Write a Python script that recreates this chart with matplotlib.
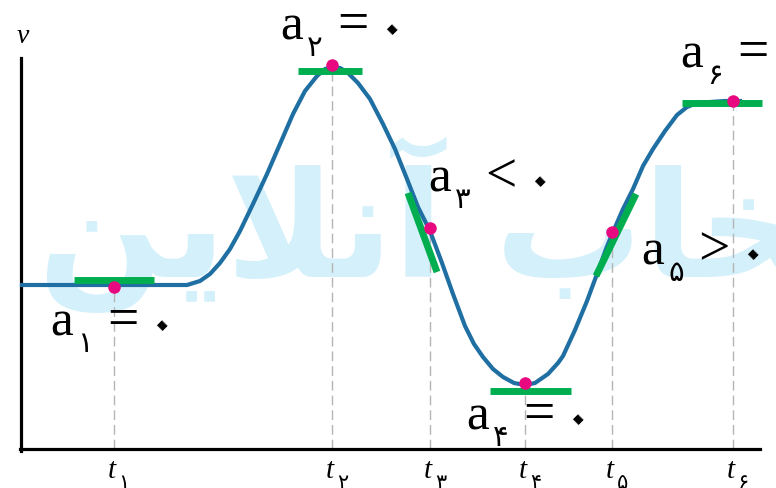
import matplotlib.pyplot as plt

config = {
    "font.family": ['Liberation Serif', 'DejaVu Sans'],
    "font.size": 14,
}
plt.rcParams.update(config)

# velocity trace v(t)
curve_t = [0.2, 4.0, 8.0, 12.0, 16.7, 18.0, 19.0, 20.0, 21.0, 22.0, 23.3, 24.7,
           26.0, 27.3, 28.5, 29.7, 30.5, 31.2, 32.0, 32.7, 33.8, 35.0, 36.3,
           37.5, 38.7, 39.8, 41.0, 42.2, 43.3, 44.5, 45.4, 46.3, 47.3, 48.3,
           49.4, 50.5, 51.5, 52.8, 53.8, 54.3, 55.5, 56.7, 57.7, 58.6, 59.3,
           60.3, 61.3, 62.3, 63.3, 64.5, 65.7, 66.7, 67.7, 69.0, 70.5, 72.0]
curve_v = [16.4, 16.4, 16.4, 16.4, 16.4, 16.8, 17.5, 18.6, 20.0, 21.8, 24.5, 27.5,
           30.5, 33.5, 35.8, 37.3, 38.0, 38.2, 38.1, 37.7, 36.6, 35.0, 32.5,
           30.0, 27.0, 24.2, 21.8, 18.6, 15.5, 12.3, 10.5, 9.2, 8.0, 7.2,
           6.6, 6.4, 6.6, 7.5, 8.6, 9.3, 11.9, 14.8, 17.5, 20.0, 21.7,
           24.0, 26.0, 28.3, 30.0, 31.8, 33.4, 34.2, 34.6, 34.7, 34.8, 34.8]

# marked instants t1..t6 and the velocity there
mark_t = [9.35, 31.2, 41.0, 50.5, 59.2, 71.3]
mark_v = [16.2, 38.4, 22.1, 6.6, 21.7, 34.8]
sub_digits = ['۱', '۲', '۳', '۴', '۵', '۶']

# tangent segments at each instant
tan_t0 = [5.4, 27.8, 38.8, 47.0, 57.6, 66.2]
tan_v0 = [16.95, 37.8, 25.6, 5.8, 17.3, 34.6]
tan_t1 = [13.4, 34.2, 41.7, 55.1, 61.6, 74.2]
tan_v1 = [16.95, 37.8, 17.7, 5.8, 25.5, 34.6]

# sign of the acceleration at each instant
acc_sign = ['=', '=', '<', '=', '>', '=']

# where each "a" label sits (left edge, baseline)
label_t = [3.0, 26.0, 40.8, 44.6, 62.1, 66.0]
label_v = [11.4, 41.0, 25.8, 2.0, 18.5, 38.2]

blue = '#1f6fa3'
green = '#00ae50'
pink = '#e8087f'
grey = '#b5b5b5'
faint = '#d4f0fb'

fig = plt.figure(figsize=(7.76, 4.89), dpi=100)
ax = fig.add_axes([0, 0, 1, 1])
ax.set_xlim(-2.0, 75.6)
ax.set_ylim(-3.9, 45.0)
ax.set_xticks([])
ax.set_yticks([])
ax.spines['top'].set_visible(False)
ax.spines['right'].set_visible(False)
ax.spines['left'].set_position(('data', 0.07))
ax.spines['left'].set_bounds(-0.15, 39.1)
ax.spines['bottom'].set_position(('data', 0))
ax.spines['bottom'].set_bounds(0, 74.0)
for s in ['left', 'bottom']:
    ax.spines[s].set_linewidth(2.3)

# background site mark (presentation forms, laid out left to right)
mark_text = '\uFEE6\uFEF3\uFEFC\uFEE7\uFE81 \uFE8F\uFE8E\uFEA8\uFE98\uFEE7\uFE8D'
ax.text(1.8, 17.3, mark_text, family='DejaVu Sans', weight='bold', fontsize=106,
        color=faint, ha='left', va='baseline', zorder=0)

ax.vlines(mark_t, 0, mark_v, colors=grey, linestyles=(0, (7, 3.6)), lw=1.0, zorder=1)
ax.plot(curve_t, curve_v, color=blue, lw=3.0, solid_joinstyle='round', zorder=3)
for i in range(6):
    ax.plot([tan_t0[i], tan_t1[i]], [tan_v0[i], tan_v1[i]], color=green, lw=5.0,
            solid_capstyle='butt', zorder=4)
ax.plot(mark_t, mark_v, 'o', ms=9, color=pink, mec='none', zorder=5)

for i in range(6):
    xy = (label_t[i], label_v[i])
    ax.annotate('a', xy, xytext=(0, 0), textcoords='offset pixels', fontsize=37,
                ha='left', va='baseline', zorder=6)
    ax.annotate(sub_digits[i], xy, xytext=(27, -16), textcoords='offset pixels',
                family='DejaVu Sans', fontsize=21, ha='left', va='baseline', zorder=6)
    ax.annotate(acc_sign[i], xy, xytext=(57, 0), textcoords='offset pixels', fontsize=40,
                ha='left', va='baseline', zorder=6)
    # persian zero, turned onto its corner
    ax.annotate('۰', xy, xytext=(122, 7), textcoords='offset pixels',
                family='DejaVu Sans', fontsize=48, rotation=45, rotation_mode='anchor',
                ha='center', va='baseline', zorder=6)

# time labels under the axis
for i in range(6):
    xy = (mark_t[i], -2.8)
    ax.annotate('t', xy, xytext=(-2, 0), textcoords='offset pixels', fontsize=21,
                style='italic', ha='center', va='baseline')
    ax.annotate(sub_digits[i], xy, xytext=(5, -11), textcoords='offset pixels',
                family='DejaVu Sans', fontsize=15, ha='left', va='baseline')

ax.text(-0.3, 40.7, 'v', fontsize=20, style='italic', ha='left', va='baseline')
ax.text(75.6, -1.6, 't', fontsize=20, style='italic', ha='left', va='baseline')

fig.savefig('out.png', dpi=100)
